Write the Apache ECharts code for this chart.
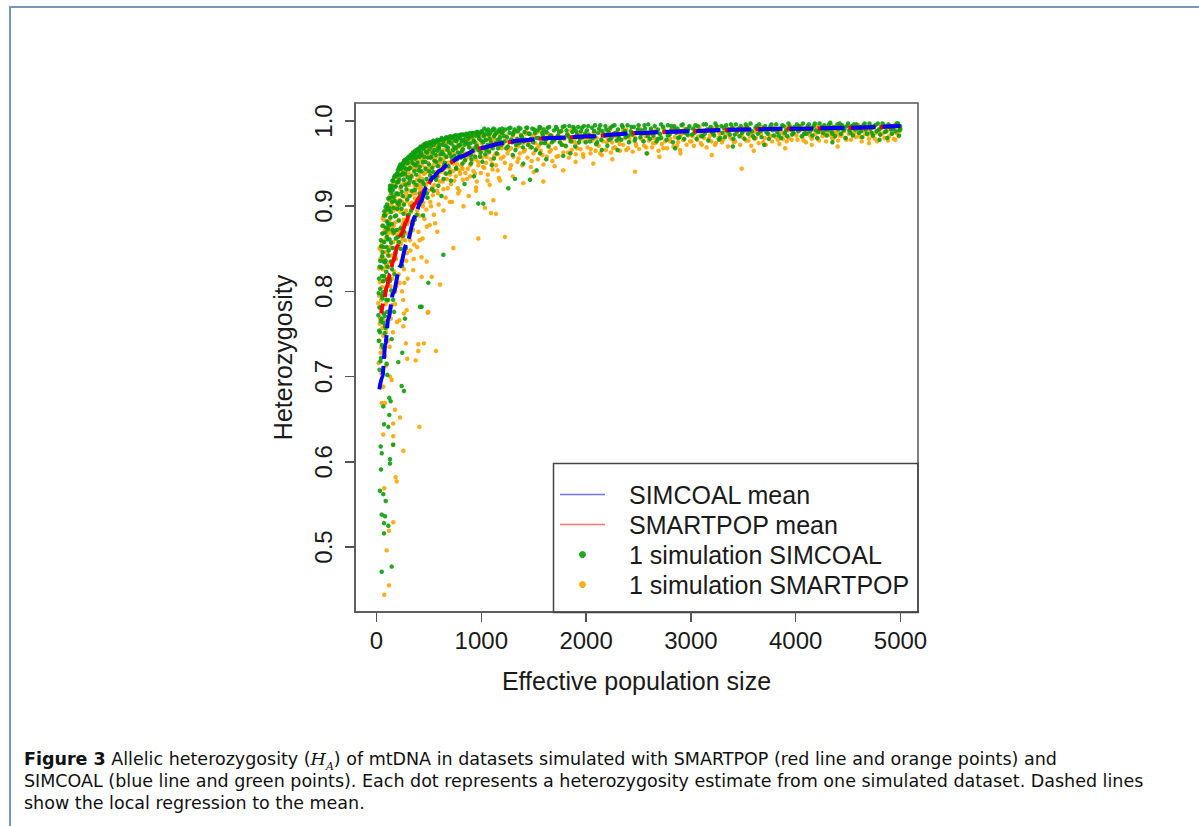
<!DOCTYPE html>
<html>
<head>
<meta charset="utf-8">
<script src="https://cdn.jsdelivr.net/npm/echarts@6/dist/echarts.min.js"></script>
<style>
  body { margin: 0; background: #fff; }
  #frame { position: absolute; left: 9px; top: 6px; width: 1200px; height: 830px;
           border-left: 2px solid #7896bb; border-top: 2px solid #7896bb; }
  #chart { position: absolute; left: 0; top: 0; width: 1199px; height: 730px; }
  #ticks { position: absolute; left: 0; top: 0; width: 1199px; height: 730px; pointer-events: none; z-index: 5; }
  #ticks div { position: absolute; background: #555; }
  #caption { position: absolute; left: 24px; top: 748px; font-family: "DejaVu Sans", sans-serif;
             font-size: 17.5px; line-height: 22px; color: #111; white-space: nowrap; }
  #caption i { font-family: "DejaVu Serif", serif; }
  #caption sub { font-size: 11px; line-height: 0; }
</style>
</head>
<body>
<div id="frame"></div>
<div id="chart"></div>
<div id="ticks"></div>
<div id="caption"><b>Figure 3</b> Allelic heterozygosity (<i>H<sub>A</sub></i>) of mtDNA in datasets simulated with SMARTPOP (red line and orange points) and<br>SIMCOAL (blue line and green points). Each dot represents a heterozygosity estimate from one simulated dataset. Dashed lines<br>show the local regression to the mean.</div>
<script>
// tick positions
const xTicks = [0, 1000, 2000, 3000, 4000, 5000];
const yTicks = [0.5, 0.6, 0.7, 0.8, 0.9, 1.0];

// loess means
const simcoalMean = [[27,0.685],[56,0.70],[85,0.738],[113,0.768],[160,0.798],[224,0.829],[288,0.856],[367,0.888],[420,0.905],[479,0.923],[540,0.934],[606,0.942],[700,0.951],[797,0.958],[988,0.968],[1200,0.974],[1369,0.977],[1660,0.980],[2037,0.982],[2500,0.986],[3000,0.988],[3468,0.990],[4000,0.991],[4500,0.992],[5000,0.994]];
const smartpopMean = [[45,0.774],[70,0.789],[97,0.805],[130,0.821],[160,0.836],[200,0.853],[240,0.868],[280,0.881],[320,0.893],[367,0.903],[420,0.912],[479,0.923],[540,0.934],[606,0.942],[700,0.951],[797,0.958],[988,0.968],[1200,0.974],[1369,0.977],[1660,0.980],[2037,0.982],[2500,0.986],[3000,0.988],[3468,0.990],[4000,0.991],[4500,0.992],[5000,0.994]];

// SIMCOAL simulations (green)
const simcoalBand = [
  [22,0.742],[28,0.781],[35,0.803],[41,0.765],[47,0.828],[52,0.795],[58,0.846],[63,0.812],[69,0.774],[74,0.858],[79,0.834],[85,0.869],[90,0.801],[95,0.852],[99,0.882],[33,0.752],[44,0.722],[66,0.734],[88,0.757],[56,0.868],[71,0.889],[93,0.823],
  [104,0.896],[108,0.861],[113,0.842],[117,0.909],[121,0.878],[126,0.815],[131,0.918],[136,0.893],[140,0.857],[145,0.924],[150,0.905],[155,0.872],[160,0.93],[165,0.911],[170,0.839],[176,0.936],[182,0.923],[188,0.889],[194,0.938],[199,0.904],[110,0.79],[142,0.801],[168,0.776],[185,0.862],[128,0.92],[158,0.93],
  [203,0.942],[208,0.928],[214,0.902],[219,0.946],[224,0.936],[230,0.874],[236,0.944],[241,0.917],[247,0.95],[253,0.939],[258,0.891],[264,0.953],[270,0.945],[276,0.925],[282,0.955],[288,0.95],[294,0.908],[299,0.956],[215,0.858],[262,0.87],[245,0.83],
  [305,0.958],[312,0.944],[318,0.931],[325,0.96],[333,0.955],[340,0.918],[348,0.963],[356,0.949],[363,0.961],[371,0.965],[379,0.937],[387,0.958],[395,0.967],[404,0.965],[412,0.946],[421,0.97],[430,0.96],[439,0.929],[448,0.972],[457,0.969],[466,0.952],[475,0.974],[484,0.963],[493,0.972],[499,0.941],[330,0.895],[365,0.884],[410,0.902],[445,0.889],[480,0.915],[318,0.957],[342,0.961],[367,0.964],[392,0.966],[417,0.969],[460,0.973],
  [505,0.975],[514,0.957],[523,0.971],[533,0.945],[542,0.977],[552,0.966],[561,0.975],[571,0.952],[580,0.978],[590,0.969],[600,0.977],[611,0.961],[622,0.98],[633,0.972],[644,0.948],[655,0.979],[666,0.981],[678,0.966],[690,0.975],[702,0.982],[714,0.958],[726,0.981],[738,0.97],[751,0.983],[763,0.976],[776,0.963],[789,0.983],[798,0.972],[530,0.92],[575,0.935],[620,0.912],[665,0.938],[710,0.93],[760,0.944],
  [805,0.984],[818,0.965],[831,0.978],[845,0.954],[858,0.985],[872,0.973],[886,0.982],[900,0.96],[914,0.986],[929,0.977],[944,0.969],[958,0.987],[973,0.983],[988,0.958],[1003,0.988],[1018,0.975],[1034,0.984],[1050,0.966],[1066,0.99],[1082,0.979],[1098,0.97],[1115,0.991],[1131,0.984],[1148,0.962],[1165,0.988],[1182,0.976],[1198,0.991],[840,0.926],[930,0.935],[1100,0.948],
  [1215,0.982],[1238,0.968],[1262,0.991],[1285,0.978],[1309,0.987],[1333,0.972],[1357,0.992],[1381,0.983],[1405,0.976],[1430,0.992],[1455,0.985],[1480,0.969],[1505,0.99],[1530,0.98],[1556,0.993],[1582,0.986],[1608,0.974],[1634,0.992],[1660,0.983],[1687,0.977],[1714,0.993],[1741,0.987],[1768,0.972],[1795,0.994],[1822,0.984],[1850,0.979],[1878,0.993],[1906,0.988],[1934,0.975],[1962,0.992],[1990,0.985],
  [2020,0.994],[2048,0.981],[2077,0.988],[2106,0.975],[2135,0.995],[2164,0.984],[2193,0.99],[2222,0.978],[2252,0.994],[2282,0.986],[2312,0.98],[2342,0.995],[2372,0.988],[2402,0.983],[2433,0.993],[2464,0.977],[2495,0.99],[2526,0.985],[2557,0.995],[2588,0.982],[2620,0.991],[2652,0.987],[2684,0.979],[2716,0.996],[2748,0.988],[2780,0.983],[2812,0.994],[2845,0.99],[2878,0.98],[2911,0.995],[2944,0.986],[2977,0.991],
  [3010,0.984],[3043,0.995],[3076,0.989],[3110,0.982],[3144,0.996],[3178,0.99],[3212,0.985],[3246,0.994],[3280,0.98],[3314,0.992],[3348,0.988],[3383,0.996],[3418,0.984],[3453,0.991],[3488,0.986],[3523,0.996],[3558,0.99],[3593,0.982],[3628,0.994],[3663,0.988],[3698,0.992],[3733,0.985],[3768,0.996],[3803,0.99],[3838,0.983],[3873,0.995],[3908,0.989],[3943,0.993],[3978,0.986],
  [4012,0.996],[4046,0.99],[4080,0.985],[4114,0.994],[4148,0.991],[4182,0.997],[4216,0.987],[4250,0.993],[4284,0.99],[4318,0.996],[4352,0.985],[4386,0.992],[4420,0.997],[4454,0.989],[4488,0.994],[4522,0.986],[4556,0.996],[4590,0.991],[4624,0.988],[4658,0.997],[4692,0.993],[4726,0.986],[4760,0.995],[4794,0.99],[4828,0.997],[4862,0.988],[4896,0.994],[4930,0.991],[4964,0.997],[4990,0.989],[4996,0.994]
];
const simcoalFill = [
  [18,0.772],[24,0.815],[29,0.708],[36,0.836],[39,0.781],[45,0.853],[51,0.737],[53,0.818],[57,0.792],[42,0.86],[31,0.829],[26,0.754],[49,0.768],[38,0.718],[55,0.841],[21,0.798],
  [61,0.877],[64,0.799],[67,0.852],[73,0.818],[76,0.894],[80,0.771],[83,0.889],[86,0.836],[91,0.875],[94,0.79],[98,0.864],[101,0.902],[105,0.829],[109,0.88],[112,0.873],[116,0.848],[119,0.898],[68,0.835],[87,0.899],[102,0.776],[114,0.909],[78,0.751],[97,0.814],
  [122,0.897],[125,0.861],[129,0.924],[133,0.887],[137,0.91],[139,0.835],[144,0.915],[147,0.879],[152,0.93],[154,0.851],[157,0.919],[162,0.898],[164,0.869],[167,0.934],[172,0.906],[175,0.888],[178,0.923],[181,0.845],[186,0.935],[189,0.915],[192,0.872],[196,0.928],[198,0.897],[134,0.922],[149,0.826],[171,0.82],[127,0.812],[159,0.79],
  [202,0.938],[206,0.914],[211,0.944],[213,0.883],[217,0.931],[221,0.946],[226,0.906],[229,0.944],[233,0.923],[237,0.948],[239,0.897],[243,0.937],[249,0.948],[251,0.912],[256,0.951],[260,0.931],[263,0.902],[267,0.954],[272,0.938],[274,0.879],[279,0.953],[284,0.943],[286,0.92],[291,0.955],[296,0.934],[298,0.889],[207,0.864],[231,0.85],[254,0.865],[281,0.851],[227,0.949],[268,0.952],
  [302,0.951],[308,0.927],[314,0.957],[317,0.912],[322,0.945],[328,0.958],[331,0.935],[336,0.96],[339,0.9],[344,0.951],[349,0.958],[353,0.928],[358,0.962],[361,0.941],[366,0.919],[370,0.956],[374,0.964],[377,0.948],[382,0.925],[386,0.966],[390,0.951],[393,0.907],[398,0.962],[402,0.942],[406,0.967],[409,0.93],[414,0.958],[418,0.968],[307,0.89],[346,0.879],[383,0.89],[415,0.915],
  [424,0.963],[429,0.941],[434,0.969],[441,0.952],[446,0.967],[451,0.926],[455,0.958],[462,0.971],[468,0.944],[472,0.964],[478,0.932],[483,0.971],[489,0.957],[495,0.973],[501,0.949],[507,0.967],[512,0.936],[518,0.974],[524,0.958],[529,0.975],[536,0.963],[541,0.94],[547,0.972],[553,0.953],[558,0.976],[565,0.96],[569,0.931],[574,0.975],[581,0.965],[586,0.947],[592,0.977],[597,0.968],[437,0.915],[485,0.91],[544,0.918],[590,0.924],
  [603,0.972],[609,0.955],[616,0.978],[624,0.964],[629,0.943],[637,0.976],[641,0.961],[648,0.979],[653,0.951],[661,0.971],[668,0.958],[674,0.98],[681,0.969],[686,0.947],[694,0.978],[699,0.962],[707,0.981],[712,0.974],[719,0.953],[723,0.98],[731,0.966],[736,0.982],[744,0.959],[748,0.977],[756,0.968],[761,0.983],[769,0.955],[773,0.979],[781,0.971],[786,0.983],[793,0.962],[799,0.98],[806,0.957],[812,0.976],[819,0.984],[826,0.967],[833,0.984],[839,0.972],[846,0.96],[849,0.982],[640,0.932],[700,0.94],[760,0.945],[820,0.95],
  [853,0.975],[861,0.984],[868,0.961],[876,0.979],[884,0.969],[891,0.986],[898,0.974],[906,0.955],[913,0.982],[921,0.966],[927,0.986],[936,0.975],[942,0.958],[951,0.983],[956,0.971],[964,0.987],[971,0.966],[979,0.979],[985,0.986],[994,0.963],[999,0.977],[1009,0.987],[1014,0.969],[1023,0.982],[1029,0.991],[1038,0.961],[1044,0.978],[1053,0.988],[1059,0.972],[1070,0.984],[1075,0.964],[1087,0.986],[1091,0.975],[1104,0.989],[1109,0.968],[1122,0.982],[1127,0.99],[1139,0.974],[1144,0.986],[1157,0.978],[1161,0.968],[1173,0.99],[1178,0.981],[1189,0.972],[1194,0.986],[900,0.95],[1010,0.952],[1120,0.956],
  [1204,0.987],[1221,0.976],[1229,0.99],[1246,0.981],[1253,0.97],[1270,0.986],[1278,0.992],[1294,0.975],[1301,0.984],[1318,0.99],[1326,0.966],[1341,0.979],[1349,0.988],[1364,0.974],[1373,0.991],[1389,0.981],[1396,0.969],[1413,0.987],[1421,0.978],[1438,0.992],[1446,0.972],[1462,0.985],[1470,0.979],[1487,0.991],[1495,0.975],[1512,0.986],[1519,0.966],[1537,0.989],[1545,0.98],[1563,0.992],[1571,0.974],[1589,0.983],[1596,0.99],[1615,0.978],[1622,0.987],[1641,0.97],[1648,0.993],[1667,0.982],[1674,0.975],[1693,0.989],[1300,0.96],[1560,0.962],
  [1703,0.979],[1722,0.991],[1733,0.983],[1750,0.975],[1760,0.988],[1777,0.993],[1787,0.98],[1805,0.971],[1814,0.989],[1831,0.982],[1841,0.994],[1858,0.976],[1869,0.987],[1886,0.991],[1896,0.97],[1913,0.984],[1924,0.993],[1941,0.979],[1951,0.988],[1969,0.981],[1979,0.994],[1997,0.975],[2008,0.989],[2027,0.984],[2037,0.976],[2057,0.992],[2066,0.98],[2086,0.995],[2096,0.973],[2115,0.986],[2125,0.991],[2145,0.978],[2155,0.988],[2174,0.983],[2184,0.994],[2203,0.971],[2213,0.987],[2232,0.992],[2242,0.98],[2262,0.985],[2271,0.995],[2291,0.977],[1850,0.962],[2150,0.966],
  [2305,0.99],[2318,0.984],[2336,0.978],[2349,0.993],[2366,0.987],[2379,0.981],[2396,0.995],[2409,0.975],[2426,0.988],[2440,0.984],[2457,0.993],[2470,0.979],[2487,0.986],[2501,0.995],[2518,0.981],[2531,0.989],[2549,0.976],[2562,0.991],[2580,0.986],[2593,0.996],[2611,0.979],[2624,0.988],[2642,0.983],[2655,0.994],[2673,0.976],[2686,0.99],[2704,0.985],[2717,0.98],[2735,0.993],[2749,0.987],[2767,0.978],[2780,0.995],[2797,0.984],[2811,0.989],[2829,0.975],[2842,0.994],[2860,0.986],[2873,0.991],[2891,0.981],[2904,0.988],[2922,0.996],[2936,0.979],[2954,0.99],[2968,0.984],[2986,0.994],
  [3021,0.991],[3033,0.986],[3054,0.979],[3066,0.994],[3087,0.988],[3099,0.982],[3121,0.996],[3132,0.985],[3155,0.99],[3166,0.977],[3188,0.993],[3200,0.987],[3222,0.983],[3234,0.997],[3257,0.989],[3268,0.978],[3291,0.994],[3302,0.986],[3325,0.981],[3337,0.995],[3359,0.99],[3371,0.984],[3394,0.992],[3406,0.979],[3429,0.996],[3441,0.988],[3464,0.982],[3476,0.994],[3499,0.989],[3511,0.979],[3534,0.993],[3546,0.985],[3569,0.997],[3581,0.988],[3604,0.98],[3616,0.992],[3639,0.985],[3651,0.996],[3674,0.981],[3686,0.99],[3709,0.994],[3721,0.987],[3744,0.979],[3756,0.993],[3779,0.989],[3791,0.983],[3814,0.996],[3826,0.987],[3849,0.991],[3861,0.98],[3884,0.994],[3896,0.986],[3919,0.982],[3931,0.997],[3954,0.99],[3966,0.984],[3989,0.993],
  [4024,0.988],[4035,0.994],[4058,0.982],[4069,0.997],[4092,0.99],[4103,0.985],[4126,0.996],[4137,0.988],[4160,0.983],[4171,0.994],[4194,0.989],[4205,0.98],[4228,0.997],[4239,0.991],[4262,0.986],[4273,0.995],[4296,0.983],[4307,0.99],[4330,0.998],[4341,0.988],[4364,0.993],[4375,0.982],[4398,0.996],[4409,0.99],[4432,0.985],[4443,0.995],[4466,0.991],[4477,0.98],[4500,0.997],[4511,0.989],[4534,0.994],[4545,0.983],[4568,0.99],[4579,0.996],[4602,0.986],[4613,0.993],[4636,0.981],[4647,0.995],[4670,0.99],[4681,0.985],[4704,0.997],[4715,0.991],[4738,0.983],[4749,0.994],[4772,0.988],[4783,0.997],[4806,0.984],[4817,0.992],[4840,0.995],[4851,0.987],[4874,0.98],[4885,0.996],[4908,0.99],[4919,0.985],[4942,0.994],[4953,0.988],[4976,0.997],[4985,0.983],[4998,0.991]
];
const simcoalSparse = [
  [431,0.782],[272,0.768],[65,0.763],[81,0.759],[145,0.744],[246,0.728],[208,0.717],[97,0.715],[103,0.702],[240,0.689],[262,0.683],[122,0.675],[135,0.671],[65,0.665],[122,0.655],[72,0.644],[113,0.641],[160,0.62],[40,0.618],[50,0.61],[129,0.603],[129,0.598],[43,0.591],[33,0.566],[65,0.562],[88,0.554],[50,0.538],[81,0.536],[72,0.528],[113,0.525],[72,0.516],[145,0.477],[50,0.471],
  [638,0.843],[495,0.81],[415,0.782],[972,0.903],[1019,0.903],[1258,0.921],[1322,0.932],[1465,0.931],[1528,0.942],[1782,0.959],[1620,0.955],[1400,0.95],[2578,0.962],[2300,0.966],[2850,0.968],[3400,0.97],[3700,0.972],[4350,0.975],[4800,0.978]
];

// SMARTPOP simulations (orange)
const smartpopBand = [
  [25,0.795],[31,0.762],[37,0.838],[43,0.812],[48,0.779],[54,0.857],[60,0.826],[65,0.748],[71,0.869],[77,0.815],[82,0.846],[87,0.785],[92,0.873],[97,0.831],[40,0.728],[62,0.705],[83,0.724],[58,0.886],[78,0.893],[96,0.758],
  [103,0.865],[107,0.899],[112,0.828],[118,0.883],[123,0.851],[128,0.912],[133,0.806],[138,0.876],[143,0.902],[148,0.842],[153,0.92],[158,0.868],[163,0.895],[169,0.823],[174,0.927],[179,0.881],[185,0.906],[191,0.85],[197,0.933],[115,0.77],[150,0.784],[180,0.8],[125,0.735],[195,0.764],
  [204,0.915],[210,0.872],[216,0.94],[222,0.898],[228,0.921],[234,0.856],[240,0.945],[246,0.905],[252,0.88],[258,0.949],[264,0.927],[270,0.893],[277,0.952],[283,0.916],[289,0.868],[295,0.938],[212,0.82],[238,0.835],[266,0.81],[290,0.845],[255,0.79],
  [304,0.955],[311,0.925],[319,0.902],[327,0.958],[335,0.937],[343,0.88],[351,0.962],[359,0.928],[367,0.909],[376,0.965],[384,0.943],[392,0.89],[401,0.967],[410,0.935],[419,0.918],[428,0.969],[437,0.948],[446,0.904],[455,0.971],[464,0.939],[473,0.925],[482,0.958],[491,0.91],[498,0.973],[320,0.86],[360,0.855],[400,0.87],[440,0.862],[480,0.876],[350,0.825],[430,0.84],[300,0.955],[340,0.96],[380,0.964],
  [506,0.962],[515,0.94],[525,0.975],[535,0.922],[545,0.955],[555,0.933],[566,0.976],[576,0.948],[587,0.915],[598,0.966],[609,0.94],[620,0.978],[632,0.929],[643,0.956],[655,0.945],[667,0.979],[679,0.921],[691,0.962],[703,0.937],[716,0.973],[729,0.95],[742,0.93],[755,0.968],[768,0.955],[781,0.98],[794,0.942],[560,0.88],[640,0.895],[700,0.905],[780,0.915],[520,0.9],[580,0.87],
  [808,0.963],[822,0.944],[836,0.976],[850,0.955],[864,0.932],[879,0.97],[894,0.948],[909,0.981],[924,0.96],[939,0.938],[955,0.974],[970,0.952],[986,0.982],[1002,0.965],[1018,0.946],[1034,0.977],[1051,0.958],[1068,0.983],[1085,0.969],[1102,0.95],[1120,0.979],[1138,0.962],[1156,0.942],[1174,0.984],[1192,0.971],[880,0.912],[950,0.922],[830,0.9],[1060,0.93],
  [1212,0.958],[1236,0.977],[1260,0.966],[1284,0.948],[1308,0.985],[1332,0.971],[1356,0.956],[1380,0.98],[1405,0.964],[1430,0.987],[1455,0.973],[1480,0.953],[1506,0.982],[1532,0.968],[1558,0.988],[1584,0.96],[1610,0.976],[1637,0.985],[1664,0.966],[1691,0.979],[1718,0.958],[1745,0.988],[1773,0.972],[1801,0.981],[1829,0.963],[1857,0.989],[1885,0.975],[1914,0.968],[1943,0.984],[1972,0.961],[1300,0.935],[1500,0.94],[1700,0.947],[1900,0.952],
  [2015,0.979],[2045,0.967],[2075,0.988],[2105,0.972],[2135,0.962],[2166,0.985],[2197,0.975],[2228,0.99],[2259,0.968],[2290,0.982],[2321,0.973],[2352,0.989],[2383,0.966],[2414,0.98],[2446,0.986],[2478,0.971],[2510,0.991],[2542,0.977],[2574,0.969],[2606,0.985],[2638,0.974],[2670,0.99],[2703,0.979],[2736,0.968],[2769,0.987],[2802,0.976],[2835,0.991],[2868,0.971],[2901,0.984],[2934,0.978],[2967,0.989],[2250,0.955],[2700,0.958],[2900,0.962],
  [3005,0.976],[3038,0.99],[3071,0.982],[3104,0.972],[3137,0.988],[3171,0.979],[3205,0.992],[3239,0.974],[3273,0.985],[3307,0.978],[3341,0.991],[3375,0.981],[3410,0.975],[3445,0.989],[3480,0.983],[3515,0.992],[3550,0.977],[3585,0.986],[3620,0.98],[3655,0.992],[3690,0.975],[3725,0.987],[3760,0.982],[3795,0.991],[3830,0.978],[3865,0.986],[3900,0.993],[3935,0.98],[3970,0.988],[3200,0.96],[3600,0.965],[3900,0.968],
  [4008,0.983],[4042,0.992],[4076,0.977],[4110,0.988],[4144,0.982],[4178,0.993],[4212,0.979],[4246,0.99],[4280,0.984],[4314,0.994],[4348,0.98],[4382,0.988],[4416,0.983],[4450,0.993],[4484,0.978],[4518,0.989],[4552,0.985],[4586,0.994],[4620,0.981],[4654,0.99],[4688,0.984],[4722,0.994],[4756,0.979],[4790,0.988],[4824,0.985],[4858,0.993],[4892,0.982],[4926,0.99],[4960,0.986],[4994,0.992],[4400,0.97],[4700,0.974],[4950,0.978]
];
const smartpopFill = [
  [17,0.786],[23,0.827],[27,0.742],[32,0.811],[35,0.768],[39,0.849],[44,0.79],[46,0.734],[50,0.842],[53,0.805],[57,0.757],[59,0.868],[30,0.851],[20,0.716],[48,0.704],[55,0.877],
  [62,0.858],[66,0.812],[69,0.884],[72,0.766],[75,0.838],[79,0.872],[81,0.797],[84,0.861],[89,0.829],[91,0.752],[95,0.891],[99,0.846],[103,0.789],[106,0.874],[110,0.852],[113,0.812],[117,0.893],[119,0.834],[70,0.731],[93,0.713],[108,0.742],
  [121,0.869],[124,0.907],[128,0.842],[131,0.885],[135,0.852],[138,0.918],[141,0.871],[146,0.898],[151,0.815],[155,0.906],[159,0.858],[162,0.926],[166,0.877],[170,0.898],[173,0.851],[177,0.911],[182,0.871],[184,0.924],[188,0.838],[193,0.9],[196,0.866],[199,0.915],[136,0.768],[157,0.752],[178,0.785],[190,0.806],[144,0.796],
  [201,0.896],[205,0.858],[209,0.931],[214,0.884],[218,0.907],[223,0.87],[226,0.938],[231,0.893],[235,0.913],[239,0.876],[244,0.925],[248,0.861],[253,0.943],[257,0.902],[261,0.884],[265,0.936],[269,0.911],[273,0.86],[278,0.928],[282,0.895],[286,0.944],[291,0.906],[295,0.879],[299,0.925],[220,0.81],[243,0.8],[262,0.826],[284,0.836],[297,0.815],
  [303,0.94],[306,0.912],[313,0.882],[316,0.946],[321,0.918],[326,0.893],[330,0.951],[334,0.904],[338,0.934],[345,0.914],[348,0.872],[352,0.944],[357,0.9],[362,0.955],[365,0.924],[369,0.887],[373,0.946],[378,0.915],[381,0.958],[386,0.931],[389,0.895],[394,0.952],[397,0.922],[403,0.908],[407,0.955],[411,0.889],[416,0.94],[419,0.926],[324,0.848],[355,0.838],[388,0.852],[412,0.86],
  [422,0.948],[427,0.922],[432,0.962],[438,0.932],[443,0.9],[448,0.955],[453,0.938],[459,0.914],[465,0.962],[470,0.945],[476,0.896],[481,0.968],[487,0.929],[492,0.951],[497,0.918],[503,0.964],[509,0.944],[514,0.905],[520,0.957],[527,0.933],[532,0.968],[538,0.913],[543,0.948],[549,0.962],[554,0.925],[561,0.955],[567,0.94],[572,0.97],[578,0.918],[584,0.959],[589,0.935],[595,0.972],[599,0.951],[457,0.885],[508,0.878],[548,0.89],[593,0.902],
  [605,0.929],[612,0.961],[618,0.946],[626,0.973],[631,0.952],[638,0.92],[646,0.966],[651,0.939],[658,0.975],[664,0.958],[671,0.932],[677,0.968],[684,0.951],[689,0.977],[697,0.944],[704,0.965],[710,0.926],[717,0.958],[725,0.975],[729,0.941],[737,0.962],[743,0.951],[750,0.978],[757,0.935],[763,0.968],[771,0.949],[776,0.921],[784,0.972],[790,0.957],[797,0.938],[804,0.969],[810,0.947],[817,0.976],[823,0.931],[830,0.961],[837,0.952],[843,0.978],[848,0.939],[660,0.91],[720,0.905],[790,0.918],
  [856,0.962],[864,0.977],[871,0.944],[879,0.958],[887,0.98],[895,0.935],[903,0.968],[911,0.952],[918,0.978],[926,0.941],[933,0.965],[941,0.982],[948,0.955],[957,0.929],[963,0.971],[972,0.948],[979,0.983],[988,0.96],[996,0.939],[1004,0.974],[1012,0.957],[1021,0.984],[1028,0.945],[1037,0.966],[1046,0.951],[1055,0.978],[1062,0.937],[1072,0.963],[1080,0.982],[1089,0.955],[1097,0.969],[1107,0.943],[1114,0.977],[1124,0.959],[1133,0.985],[1141,0.948],[1151,0.972],[1159,0.961],[1168,0.933],[1177,0.978],[1186,0.956],[1195,0.968],[950,0.918],[1080,0.925],[1180,0.93],
  [1208,0.973],[1225,0.951],[1233,0.983],[1250,0.962],[1258,0.976],[1274,0.944],[1282,0.968],[1298,0.981],[1306,0.958],[1322,0.975],[1330,0.987],[1345,0.952],[1353,0.97],[1368,0.962],[1377,0.984],[1392,0.948],[1400,0.974],[1417,0.966],[1425,0.985],[1441,0.957],[1450,0.977],[1466,0.969],[1474,0.946],[1491,0.983],[1499,0.962],[1516,0.974],[1524,0.986],[1541,0.955],[1549,0.971],[1567,0.965],[1575,0.981],[1593,0.949],[1600,0.975],[1619,0.986],[1626,0.958],[1645,0.972],[1652,0.964],[1671,0.983],[1678,0.953],[1697,0.977],
  [1708,0.968],[1726,0.982],[1737,0.959],[1755,0.975],[1765,0.988],[1782,0.963],[1792,0.979],[1809,0.97],[1819,0.985],[1836,0.957],[1846,0.976],[1863,0.966],[1874,0.988],[1891,0.979],[1901,0.961],[1918,0.974],[1929,0.986],[1946,0.967],[1956,0.98],[1974,0.958],[1984,0.976],[2002,0.988],[2013,0.969],[2032,0.981],[2042,0.962],[2061,0.977],[2071,0.986],[2091,0.965],[2101,0.98],[2120,0.971],[2130,0.989],[2150,0.96],[2160,0.976],[2179,0.984],[2189,0.966],[2208,0.979],[2218,0.988],[2237,0.963],[2247,0.975],[2267,0.983],[2276,0.969],[2296,0.987],
  [2310,0.977],[2323,0.965],[2341,0.985],[2354,0.972],[2371,0.98],[2384,0.99],[2401,0.968],[2414,0.976],[2431,0.986],[2445,0.964],[2462,0.982],[2475,0.973],[2492,0.989],[2506,0.967],[2523,0.979],[2536,0.985],[2554,0.971],[2567,0.982],[2585,0.962],[2598,0.977],[2616,0.99],[2629,0.969],[2647,0.98],[2660,0.974],[2678,0.987],[2691,0.965],[2709,0.983],[2722,0.973],[2740,0.991],[2754,0.976],[2772,0.968],[2785,0.984],[2802,0.979],[2816,0.99],[2834,0.97],[2847,0.981],[2865,0.987],[2878,0.975],[2896,0.966],[2909,0.985],[2927,0.978],[2941,0.991],[2959,0.972],[2973,0.983],[2991,0.976],
  [3016,0.982],[3028,0.971],[3049,0.988],[3061,0.978],[3082,0.993],[3094,0.974],[3116,0.985],[3127,0.98],[3150,0.969],[3161,0.99],[3183,0.983],[3195,0.976],[3217,0.988],[3229,0.972],[3252,0.993],[3263,0.98],[3286,0.986],[3297,0.975],[3320,0.99],[3332,0.983],[3354,0.97],[3366,0.987],[3389,0.979],[3401,0.992],[3424,0.976],[3436,0.985],[3459,0.99],[3471,0.972],[3494,0.981],[3506,0.988],[3529,0.977],[3541,0.994],[3564,0.982],[3576,0.971],[3599,0.987],[3611,0.979],[3634,0.99],[3646,0.974],[3669,0.985],[3681,0.993],[3704,0.98],[3716,0.972],[3739,0.988],[3751,0.983],[3774,0.976],[3786,0.992],[3809,0.981],[3821,0.987],[3844,0.973],[3856,0.99],[3879,0.979],[3891,0.984],[3914,0.976],[3926,0.989],[3949,0.994],[3961,0.978],[3984,0.985],
  [4018,0.978],[4030,0.989],[4052,0.994],[4064,0.981],[4086,0.986],[4098,0.975],[4120,0.992],[4132,0.984],[4154,0.979],[4166,0.99],[4188,0.985],[4200,0.994],[4222,0.977],[4234,0.987],[4256,0.982],[4268,0.992],[4290,0.976],[4302,0.988],[4324,0.984],[4336,0.995],[4358,0.979],[4370,0.99],[4392,0.986],[4404,0.977],[4426,0.993],[4438,0.983],[4460,0.988],[4472,0.98],[4494,0.994],[4506,0.985],[4528,0.978],[4540,0.991],[4562,0.987],[4574,0.981],[4596,0.995],[4608,0.983],[4630,0.976],[4642,0.989],[4664,0.985],[4676,0.993],[4698,0.979],[4710,0.988],[4732,0.982],[4744,0.992],[4766,0.986],[4778,0.976],[4800,0.99],[4812,0.984],[4834,0.994],[4846,0.98],[4868,0.988],[4880,0.977],[4902,0.992],[4914,0.985],[4936,0.979],[4948,0.995],[4970,0.987],[4982,0.982],[4997,0.989]
];
const smartpopSparse = [
  [489,0.775],[262,0.774],[288,0.778],[218,0.766],[256,0.759],[281,0.739],[399,0.738],[453,0.739],[568,0.73],[399,0.73],[294,0.721],[374,0.719],[129,0.70],[145,0.696],[65,0.688],[50,0.669],[81,0.669],[177,0.661],[224,0.652],[160,0.645],[409,0.641],[65,0.632],[160,0.63],[155,0.62],[256,0.613],[183,0.582],[193,0.577],[74,0.569],[160,0.529],[119,0.519],[97,0.496],[119,0.455],[74,0.444],
  [972,0.862],[1226,0.864],[733,0.851],[479,0.835],[431,0.817],[527,0.817],[606,0.808],[495,0.776],[1115,0.907],[1140,0.891],[1093,0.892],[1035,0.898],[2467,0.9405],[1401,0.927],[1592,0.929],[3485,0.944],[4153,0.972],[1782,0.942],[2069,0.95]
];

const X_MIN = -205, X_MAX = 5167;
const Y_MIN = 0.4237, Y_MAX = 1.0211;
const GRID = { left: 355, top: 103, width: 563, height: 509 };
const FONT = '"Liberation Sans", Arial, sans-serif';
const TEXT = '#1a1a1a';
const AXIS = '#555';

const chart = echarts.init(document.getElementById('chart'), null, { renderer: 'svg' });

chart.setOption({
  animation: false,
  grid: Object.assign({ show: true, borderColor: AXIS, borderWidth: 1.5, backgroundColor: 'transparent' }, GRID),
  xAxis: {
    type: 'value', min: X_MIN, max: X_MAX, position: 'bottom',
    name: 'Effective population size', nameLocation: 'middle', nameGap: 56,
    nameTextStyle: { fontFamily: FONT, fontSize: 25, color: TEXT },
    axisLine: { show: true, onZero: false, lineStyle: { color: AXIS, width: 1.5 } },
    splitLine: { show: false }, axisTick: { show: false },
    axisLabel: { customValues: xTicks, fontFamily: FONT, fontSize: 24, color: TEXT, margin: 16,
                 formatter: v => String(v) }
  },
  yAxis: {
    type: 'value', min: Y_MIN, max: Y_MAX, position: 'left',
    name: 'Heterozygosity', nameLocation: 'middle', nameGap: 60, nameRotate: 90,
    nameTextStyle: { fontFamily: FONT, fontSize: 25, color: TEXT },
    axisLine: { show: true, onZero: false, lineStyle: { color: AXIS, width: 1.5 } },
    splitLine: { show: false }, axisTick: { show: false },
    axisLabel: { customValues: yTicks, rotate: 90, fontFamily: FONT, fontSize: 24, color: TEXT, margin: 20,
                 formatter: v => v.toFixed(1) }
  },
  legend: {
    orient: 'vertical', left: 560, top: 482, padding: 0,
    itemWidth: 45, itemHeight: 7, itemGap: 5,
    textStyle: { fontFamily: FONT, fontSize: 25, color: TEXT, lineHeight: 24, padding: [0, 0, 0, 19] },
    data: [
      { name: 'SIMCOAL mean', icon: 'path://M0,0H45V1.6H0Z', itemStyle: { color: 'rgba(90,90,255,0.85)', borderWidth: 0 } },
      { name: 'SMARTPOP mean', icon: 'path://M0,0H45V1.6H0Z', itemStyle: { color: 'rgba(255,90,90,0.85)', borderWidth: 0 } },
      { name: '1 simulation SIMCOAL', icon: 'circle', itemStyle: { color: '#0c9e0c' } },
      { name: '1 simulation SMARTPOP', icon: 'circle', itemStyle: { color: '#ffa500' } }
    ]
  },
  graphic: [{
    type: 'rect', z: 10, silent: true,
    shape: { x: 553.5, y: 463.5, width: 364.5, height: 149 },
    style: { fill: 'none', stroke: '#444', lineWidth: 1.5 }
  }],
  series: [
    { name: '1 simulation SMARTPOP', type: 'scatter', symbolSize: 4.5,
      itemStyle: { color: '#ffa500', opacity: 0.9 },
      data: smartpopBand.concat(smartpopFill, smartpopSparse) },
    { name: '1 simulation SIMCOAL', type: 'scatter', symbolSize: 4.5,
      itemStyle: { color: '#0c9e0c', opacity: 0.9 },
      data: simcoalBand.concat(simcoalFill, simcoalSparse) },
    { name: 'SMARTPOP mean', type: 'line', symbol: 'none', smooth: 0.3, smoothMonotone: 'x',
      lineStyle: { color: '#ff0000', width: 4, type: [24, 7], dashOffset: 14 },
      data: smartpopMean },
    { name: 'SIMCOAL mean', type: 'line', symbol: 'none', smooth: 0.3, smoothMonotone: 'x',
      lineStyle: { color: '#0000ff', width: 4, type: [24, 7] },
      data: simcoalMean }
  ]
});

// outside tick marks as plain DOM marks, placed with the chart's own pixel conversion
function toPx(v, isX) {
  const p = chart.convertToPixel({ gridIndex: 0 }, isX ? [v, Y_MIN] : [X_MIN, v]);
  if (p && isFinite(p[0]) && isFinite(p[1])) return isX ? p[0] : p[1];
  return isX ? GRID.left + (v - X_MIN) / (X_MAX - X_MIN) * GRID.width
             : GRID.top + GRID.height - (v - Y_MIN) / (Y_MAX - Y_MIN) * GRID.height;
}
const tickBox = document.getElementById('ticks');
const gridBottom = GRID.top + GRID.height;
xTicks.forEach(v => {
  const d = document.createElement('div');
  d.style.cssText = `left:${toPx(v, true) - 0.75}px;top:${gridBottom}px;width:1.5px;height:10px;`;
  tickBox.appendChild(d);
});
yTicks.forEach(v => {
  const d = document.createElement('div');
  d.style.cssText = `left:${GRID.left - 10}px;top:${toPx(v, false) - 0.75}px;width:10px;height:1.5px;`;
  tickBox.appendChild(d);
});

window.addEventListener('resize', () => chart.resize());
</script>
</body>
</html>
